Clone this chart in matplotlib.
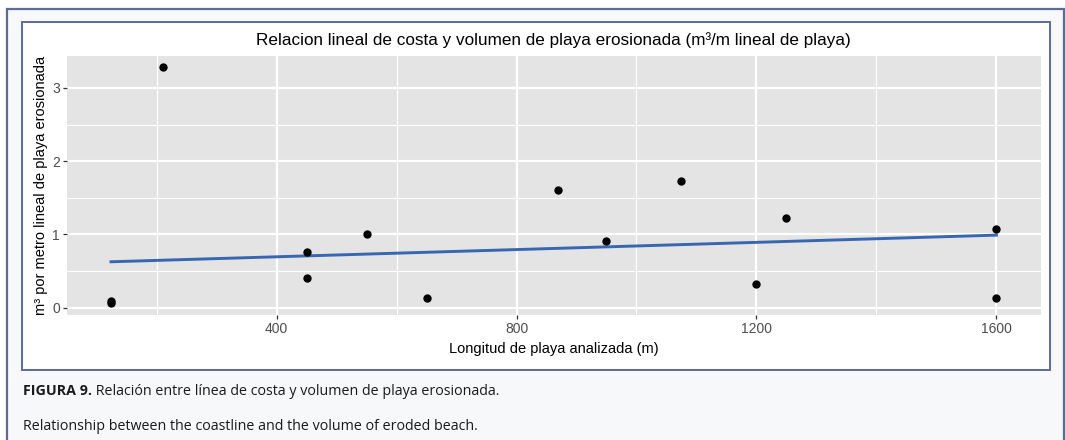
import numpy as np
import matplotlib
matplotlib.use("Agg")
import matplotlib.pyplot as plt
from matplotlib.patches import Rectangle

# beach length analysed (m) and eroded volume per metre (m3/m)
longitud = [124, 124, 210, 450, 450, 550, 650, 870, 950, 1075, 1200, 1250, 1600, 1600]
volumen = [0.09, 0.06, 3.28, 0.76, 0.41, 1.00, 0.137, 1.61, 0.91, 1.73, 0.32, 1.22, 1.07, 0.137]

# trend line as drawn in the original
tendencia_x = [124, 1600]
tendencia_y = [0.626, 0.99]

x_ticks = [400, 800, 1200, 1600]
x_minor = [200, 600, 1000, 1400]
y_ticks = [0, 1, 2, 3]
y_minor = [0.5, 1.5, 2.5]

titulo = "Relacion lineal de costa y volumen de playa erosionada (m³/m lineal de playa)"
x_label = "Longitud de playa analizada (m)"
y_label = "m³ por metro lineal de playa erosionada"
caption_bold = "FIGURA 9."
caption_es = " Relación entre línea de costa y volumen de playa erosionada."
caption_en = "Relationship between the coastline and the volume of eroded beach."

W, H = 1065, 440
fig = plt.figure(figsize=(W / 100, H / 100), dpi=100)
fig.patch.set_facecolor("white")

border = "#5d6b9b"

def px(x0, y0, x1, y1):
    # pixel box (top-left origin) -> figure fraction rect
    return [x0 / W, 1 - y1 / H, (x1 - x0) / W, (y1 - y0) / H]

# outer page frame and inner white box
r = px(7, 9, 1064, 450)
fig.patches.append(Rectangle((r[0], r[1]), r[2], r[3], transform=fig.transFigure,
                             facecolor="#f6f8fa", edgecolor=border, lw=1.6, zorder=-2))
r = px(21.5, 22.5, 1049.5, 370)
fig.patches.append(Rectangle((r[0], r[1]), r[2], r[3], transform=fig.transFigure,
                             facecolor="white", edgecolor=border, lw=1.4, zorder=-1))

ax = fig.add_axes(px(66.7, 55.7, 1040.7, 315))
ax.set_zorder(2)
ax.set_facecolor("#e4e4e4")

ax.plot(tendencia_x, tendencia_y, color="#3766b3", lw=2.1, zorder=3)
ax.scatter(longitud, volumen, s=36, color="black", zorder=4, linewidths=0)

ax.margins(x=0.05, y=0.05)
ax.set_xticks(x_ticks)
ax.set_xticks(x_minor, minor=True)
ax.set_yticks(y_ticks)
ax.set_yticks(y_minor, minor=True)
ax.set_yticklabels([str(v) for v in y_ticks])
ax.grid(which="major", color="white", lw=1.6)
ax.grid(which="minor", color="white", lw=0.8)
ax.set_axisbelow(True)
for s in ax.spines.values():
    s.set_visible(False)
ax.tick_params(which="major", length=3, width=0.9, color="#333333",
               labelsize=10, labelcolor="#4d4d4d", pad=2)
ax.tick_params(which="minor", length=0)
for lab in ax.get_xticklabels() + ax.get_yticklabels():
    lab.set_family("Liberation Sans")

ax.set_xlabel(x_label, fontsize=10.5, family="Liberation Sans", labelpad=4)
ax.set_ylabel(y_label, fontsize=10.5, family="Liberation Sans", labelpad=3)
ax.set_title(titulo, fontsize=12.3, family="Liberation Sans", pad=8)

cap_font = "Open Sans"
cap_size = 10.3
t = fig.text(23 / W, 1 - 391 / H, caption_bold, fontsize=cap_size, family=cap_font,
             fontweight="bold", va="center", color="#1a1a1a")
fig.canvas.draw()
bb = t.get_window_extent()
fig.text(bb.x1 / W, 1 - 391 / H, caption_es, fontsize=cap_size, family=cap_font,
         va="center", color="#1a1a1a")
fig.text(23 / W, 1 - 426 / H, caption_en, fontsize=cap_size, family=cap_font,
         va="center", color="#1a1a1a")

fig.savefig("out.png", dpi=100)
